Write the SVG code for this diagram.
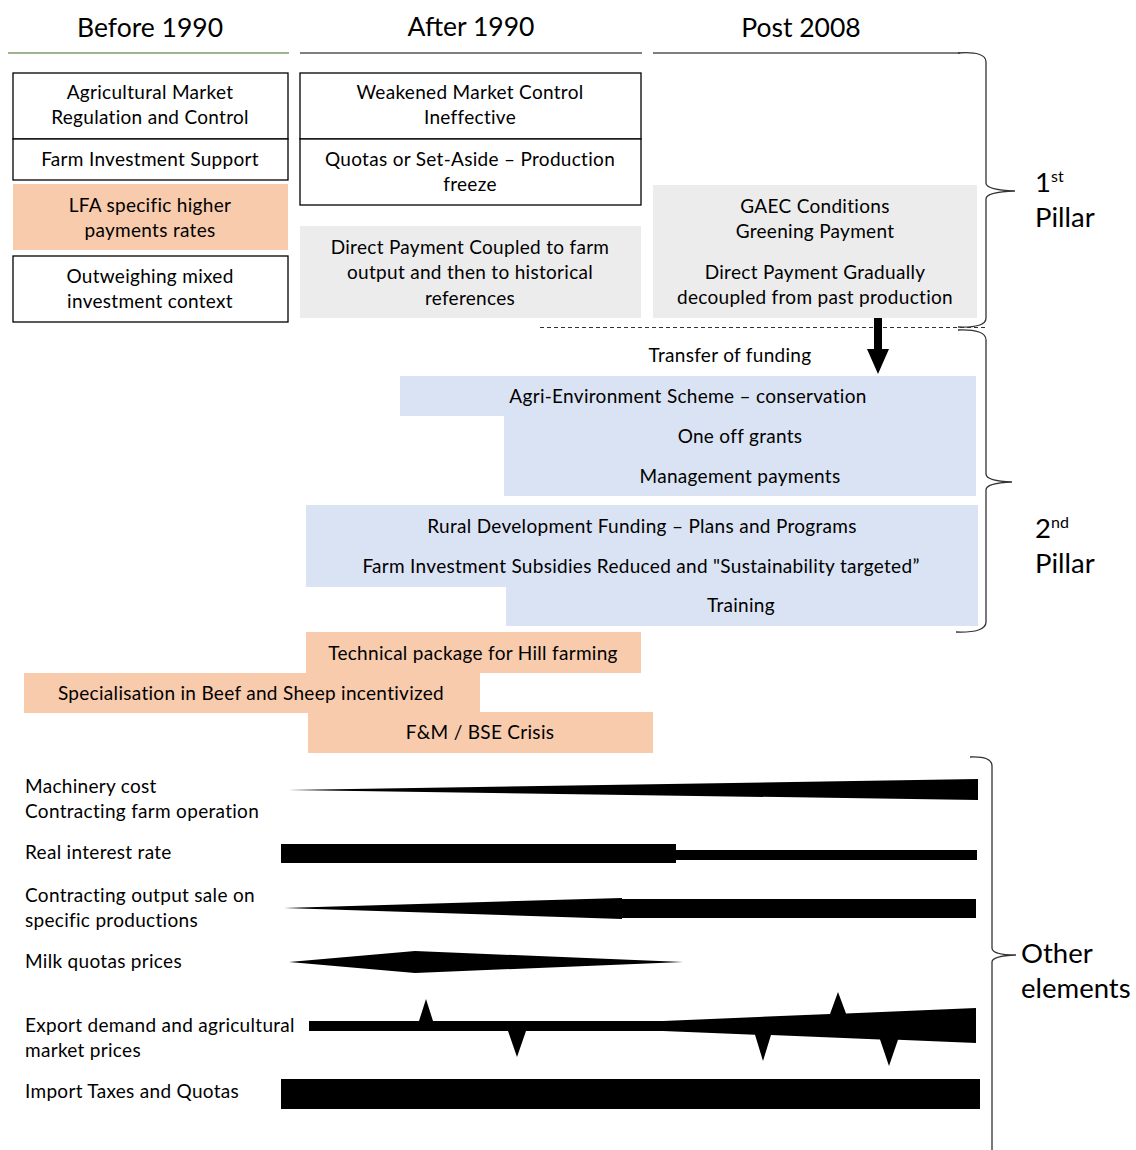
<svg xmlns="http://www.w3.org/2000/svg" width="1136" height="1150" viewBox="0 0 1136 1150">
<style>
text{font-family:Lato,"Open Sans","Liberation Sans",sans-serif;fill:#000}
.h{font-size:26.5px;text-anchor:middle}
.t{font-size:19px;letter-spacing:0.3px;text-anchor:middle}
.l{font-size:19px;letter-spacing:0.3px}
.p{font-size:27.5px}
.box{fill:#fff;stroke:#000;stroke-width:1.3}
.or{fill:#f8cbad}
.gr{fill:#ececec}
.bl{fill:#dae3f3}
.br{fill:none;stroke:#333;stroke-width:1.3}
.blk{fill:#000}
</style>
<g id="headers">
<text class="h" x="150" y="37">Before 1990</text>
<text class="h" x="471" y="36">After 1990</text>
<text class="h" x="801" y="37">Post 2008</text>
<line x1="8" y1="53" x2="289" y2="53" stroke="#7f9a6c" stroke-width="1.5"/>
<line x1="300" y1="53" x2="642" y2="53" stroke="#555" stroke-width="1.5"/>
<line x1="653" y1="53" x2="960" y2="53" stroke="#555" stroke-width="1.5"/>
</g>
<g id="n-agri-market">
<rect class="box" x="13" y="73" width="275" height="66"/>
<text class="t" x="150" y="99">Agricultural Market</text>
<text class="t" x="150" y="124">Regulation and Control</text>
</g>
<g id="n-farm-inv">
<rect class="box" x="13" y="139" width="275" height="41"/>
<text class="t" x="150" y="166">Farm Investment Support</text>
</g>
<g id="n-lfa">
<rect class="or" x="13" y="184" width="275" height="66"/>
<text class="t" x="150" y="212">LFA specific higher</text>
<text class="t" x="150" y="237">payments rates</text>
</g>
<g id="n-outweighing">
<rect class="box" x="13" y="256" width="275" height="66"/>
<text class="t" x="150" y="283">Outweighing mixed</text>
<text class="t" x="150" y="308">investment context</text>
</g>
<g id="n-weakened">
<rect class="box" x="300" y="73" width="341" height="66"/>
<text class="t" x="470" y="99">Weakened Market Control</text>
<text class="t" x="470" y="124">Ineffective</text>
</g>
<g id="n-quotas">
<rect class="box" x="300" y="139" width="341" height="66"/>
<text class="t" x="470" y="166">Quotas or Set-Aside – Production</text>
<text class="t" x="470" y="191">freeze</text>
</g>
<g id="n-direct-coupled">
<rect class="gr" x="300" y="226" width="341" height="92"/>
<text class="t" x="470" y="254">Direct Payment Coupled to farm</text>
<text class="t" x="470" y="279">output and then to historical</text>
<text class="t" x="470" y="305">references</text>
</g>
<g id="n-gaec">
<rect class="gr" x="653" y="185" width="324" height="133"/>
<text class="t" x="815" y="213">GAEC Conditions</text>
<text class="t" x="815" y="238">Greening Payment</text>
<text class="t" x="815" y="279">Direct Payment Gradually</text>
<text class="t" x="815" y="304">decoupled from past production</text>
</g>
<g id="connectors">
<line x1="540" y1="327.5" x2="985" y2="327.5" stroke="#333" stroke-width="1.2" stroke-dasharray="4,3"/>
<polygon class="blk" points="874,318 882,318 882,349 889,349 878,374 867,349 874,349"/>
</g>
<g id="n-transfer">
<text class="t" x="730" y="362">Transfer of funding</text>
</g>
<g id="n-agri-env">
<path class="bl" d="M400,376 H976 V496 H504 V416 H400 Z"/>
<text class="t" x="688" y="403">Agri-Environment Scheme – conservation</text>
<text class="t" x="740" y="443">One off grants</text>
<text class="t" x="740" y="483">Management payments</text>
</g>
<g id="n-rural">
<path class="bl" d="M306,505 H978 V626 H506 V587 H306 Z"/>
<text class="t" x="642" y="533">Rural Development Funding – Plans and Programs</text>
<text class="t" x="641" y="573">Farm Investment Subsidies Reduced and "Sustainability targeted”</text>
<text class="t" x="741" y="612">Training</text>
</g>
<g id="n-technical">
<rect class="or" x="306" y="632" width="335" height="41"/>
<text class="t" x="473" y="660">Technical package for Hill farming</text>
</g>
<g id="n-special">
<rect class="or" x="24" y="673" width="456" height="40"/>
<text class="t" x="251" y="700">Specialisation in Beef and Sheep incentivized</text>
</g>
<g id="n-fm">
<rect class="or" x="308" y="712" width="345" height="41"/>
<text class="t" x="480" y="739">F&amp;M / BSE Crisis</text>
</g>
<g id="braces">
<path class="br" d="M958,53 Q986,51 986,62 V183 Q986,190 1015,191 Q986,192 986,199 V318 Q986,328 958,327"/>
<path class="br" d="M958,330 Q986,329 986,340 V474 Q986,481 1012,482 Q986,483 986,490 V622 Q986,633 956,632"/>
<path class="br" d="M970,757 Q992,756 992,766 V948 Q992,955 1016,955 Q992,956 992,962 V1150"/>
</g>
<g id="pillar-labels">
<text class="p" x="1035" y="192">1<tspan font-size="16" dy="-10">st</tspan></text>
<text class="p" x="1035" y="227">Pillar</text>
<text class="p" x="1035" y="538">2<tspan font-size="16" dy="-10">nd</tspan></text>
<text class="p" x="1035" y="573">Pillar</text>
<text class="p" x="1021" y="963">Other</text>
<text class="p" x="1021" y="998">elements</text>
</g>
<g id="other-elements">
<text class="l" x="25" y="793">Machinery cost</text>
<text class="l" x="25" y="818">Contracting farm operation</text>
<polygon class="blk" points="288,790 978,779 978,800"/>
<text class="l" x="25" y="859">Real interest rate</text>
<path class="blk" d="M281,844 H676 V850 H977 V860 H676 V863 H281 Z"/>
<text class="l" x="25" y="902">Contracting output sale on</text>
<text class="l" x="25" y="927">specific productions</text>
<path class="blk" d="M284,908 L622,898 V899 H976 V918 H622 V919 Z"/>
<text class="l" x="25" y="968">Milk quotas prices</text>
<polygon class="blk" points="289,962 415,951 683,962 415,973"/>
<text class="l" x="25" y="1032">Export demand and agricultural</text>
<text class="l" x="25" y="1057">market prices</text>
<path class="blk" d="M309,1021 H419 L426,999 L433,1021 H663 L830,1014 L838,992 L846,1013.4 L976,1008 V1043 L898,1039.8 L889,1066 L880,1039.4 L771,1035 L763,1061 L755,1034.7 L663,1031 H526 L517,1057 L508,1031 H309 Z"/>
<text class="l" x="25" y="1098">Import Taxes and Quotas</text>
<rect class="blk" x="281" y="1079" width="699" height="30"/>
</g>
</svg>
